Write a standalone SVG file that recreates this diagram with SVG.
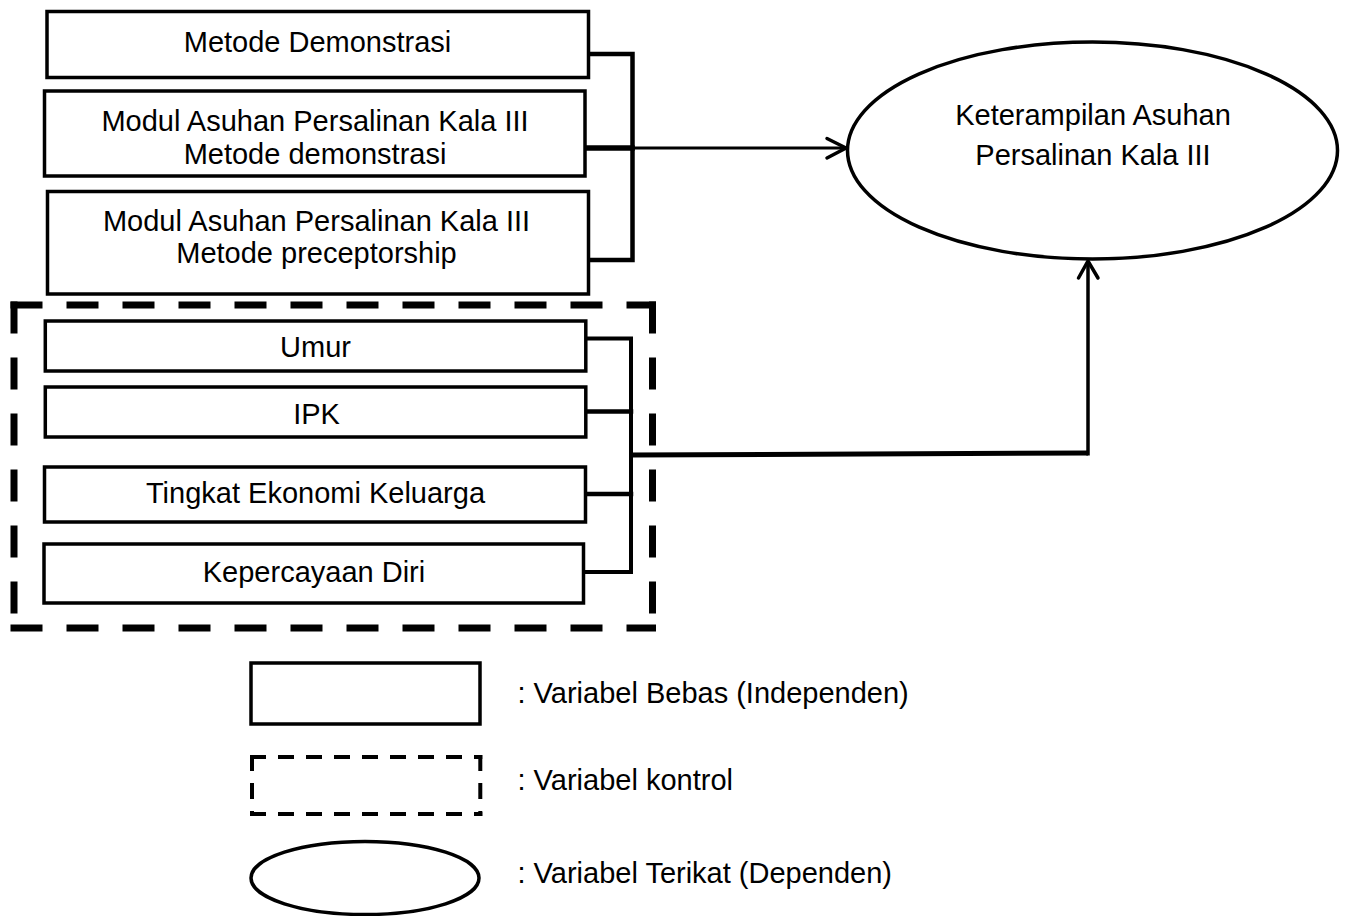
<svg xmlns="http://www.w3.org/2000/svg" width="1349" height="916" viewBox="0 0 1349 916">
<defs>
<style>
text{font-family:"Liberation Sans",Arial,sans-serif;font-size:29px;fill:#000}
.c{text-anchor:middle}
.box{fill:#fff;stroke:#000;stroke-width:3.5}
.ell{fill:#fff;stroke:#000;stroke-width:3.5}
.ln{fill:none;stroke:#000;stroke-linecap:square}
.dash{fill:none;stroke:#000;stroke-width:7;stroke-linecap:square;stroke-dasharray:25 31}
.dashs{fill:none;stroke:#000;stroke-width:4;stroke-linecap:square;stroke-dasharray:12 16}
.ah{fill:none;stroke:#000;stroke-width:3.5;stroke-linecap:round;stroke-linejoin:miter}
</style>
</defs>
<rect width="1349" height="916" fill="#fff"/>

<g id="control-frame">
<line class="dash" x1="14" y1="305" x2="652.5" y2="305"/>
<line class="dash" x1="14" y1="305" x2="14" y2="628"/>
<line class="dash" x1="652.5" y1="305" x2="652.5" y2="628"/>
<line class="dash" x1="14" y1="628" x2="652.5" y2="628"/>
</g>

<g id="connectors">
<polyline class="ln" stroke-width="4.5" points="588,54 632.5,54 632.5,260 588,260"/>
<line class="ln" stroke-width="5.5" x1="586" y1="148" x2="632" y2="148"/>
<line class="ln" stroke-width="3" x1="632" y1="148" x2="845" y2="148" style="stroke-linecap:butt"/>
<polyline class="ah" points="827,138.5 846,148 827,158"/>
<polyline class="ln" stroke-width="4" points="586,338.5 631,338.5 631,572 584,572"/>
<line class="ln" stroke-width="4.5" x1="586" y1="411.5" x2="631" y2="411.5"/>
<line class="ln" stroke-width="4.5" x1="586" y1="494" x2="631" y2="494"/>
<polyline class="ln" stroke-width="5" points="631,455 1088,453" style="stroke-linecap:butt"/>
<line class="ln" stroke-width="3.5" x1="1088" y1="455.5" x2="1088" y2="261" style="stroke-linecap:butt"/>
<polyline class="ah" points="1078.5,278 1088,261 1098,278"/>
</g>

<g id="metode-demonstrasi">
<rect class="box" x="47" y="11.5" width="541.5" height="66"/>
<text class="c" x="317.5" y="51.5">Metode Demonstrasi</text>
</g>
<g id="modul-demonstrasi">
<rect class="box" x="44.5" y="91" width="540.5" height="85"/>
<text class="c" x="315" y="131">Modul Asuhan Persalinan Kala III</text>
<text class="c" x="315" y="163.5">Metode demonstrasi</text>
</g>
<g id="modul-preceptorship">
<rect class="box" x="47.5" y="191.5" width="541" height="102.5"/>
<text class="c" x="316.5" y="230.5">Modul Asuhan Persalinan Kala III</text>
<text class="c" x="316.5" y="263">Metode preceptorship</text>
</g>
<g id="umur">
<rect class="box" x="45.3" y="321" width="540.5" height="50"/>
<text class="c" x="315.5" y="357">Umur</text>
</g>
<g id="ipk">
<rect class="box" x="45.3" y="387" width="540.5" height="50"/>
<text class="c" x="316.5" y="423.5">IPK</text>
</g>
<g id="tingkat-ekonomi">
<rect class="box" x="44.5" y="467" width="541" height="55"/>
<text class="c" x="315.5" y="503">Tingkat Ekonomi Keluarga</text>
</g>
<g id="kepercayaan-diri">
<rect class="box" x="44" y="544" width="539.5" height="59"/>
<text class="c" x="314" y="581.5">Kepercayaan Diri</text>
</g>
<g id="keterampilan">
<ellipse class="ell" cx="1092.5" cy="150.5" rx="245" ry="108.5"/>
<text class="c" x="1093" y="125">Keterampilan Asuhan</text>
<text class="c" x="1093" y="165">Persalinan Kala III</text>
</g>

<g id="legend">
<rect class="box" x="251" y="663" width="229" height="61"/>
<text x="517.5" y="703">: Variabel Bebas (Independen)</text>
<line class="dashs" x1="252" y1="757" x2="480.3" y2="757"/>
<line class="dashs" x1="252" y1="757" x2="252" y2="814"/>
<line class="dashs" x1="480.3" y1="757" x2="480.3" y2="814"/>
<line class="dashs" x1="252" y1="814" x2="480.3" y2="814"/>
<text x="517.5" y="790">: Variabel kontrol</text>
<ellipse class="ell" cx="365" cy="878" rx="114" ry="36.5"/>
<text x="517.5" y="883">: Variabel Terikat (Dependen)</text>
</g>
</svg>
